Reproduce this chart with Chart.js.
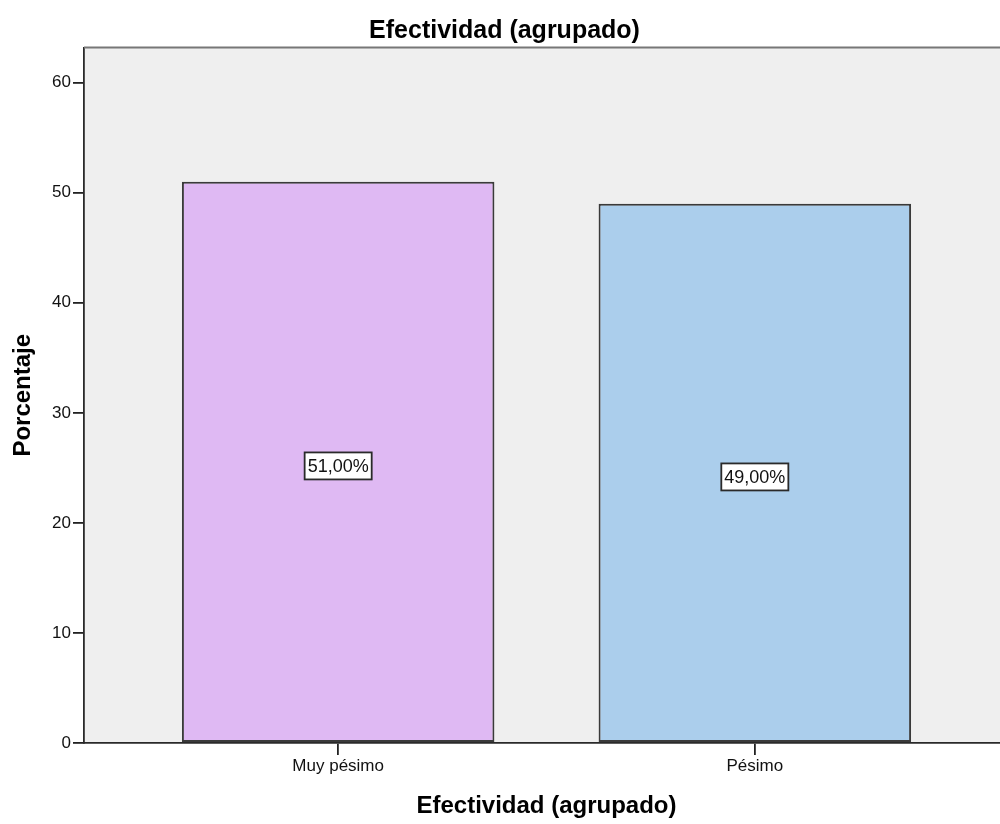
<!DOCTYPE html>
<html lang="es">
<head>
<meta charset="utf-8">
<title>Efectividad (agrupado)</title>
<script src="https://cdn.jsdelivr.net/npm/chart.js@4/dist/chart.umd.min.js"></script>
<style>
  html, body { margin: 0; padding: 0; background: #ffffff; overflow: hidden; }
  #wrap { width: 1009px; height: 824px; position: relative; }
</style>
</head>
<body>
<div id="wrap"><canvas id="chart"></canvas></div>
<script>
// Categorías y porcentajes
const categories = ['Muy pésimo', 'Pésimo'];
const percentages = [51.00, 49.00];
const barColors = ['#DFB9F3', '#ABCEEC'];
const yTicks = [0, 10, 20, 30, 40, 50, 60];

const chartTitle = 'Efectividad (agrupado)';
const xTitle = 'Efectividad (agrupado)';
const yTitle = 'Porcentaje';

const FONT = "'Liberation Sans', Arial, sans-serif";

const fmtPct = v => v.toFixed(2).replace('.', ',') + '%';

// Fondo gris del área de trazado y línea superior del marco
const framePlugin = {
  id: 'frame',
  beforeDraw(chart) {
    const { ctx, chartArea: a } = chart;
    ctx.save();
    ctx.fillStyle = '#EFEFEF';
    ctx.fillRect(a.left, a.top, a.right - a.left, a.bottom - a.top);
    ctx.restore();
  },
  afterDraw(chart) {
    const { ctx, chartArea: a } = chart;
    ctx.save();
    ctx.strokeStyle = '#777777';
    ctx.lineWidth = 2;
    ctx.beginPath();
    ctx.moveTo(a.left, a.top);
    ctx.lineTo(a.right, a.top);
    ctx.lineTo(a.right, a.bottom);
    ctx.stroke();
    ctx.restore();
  }
};

// Etiquetas de valor en recuadro blanco en el centro de cada barra
const valueLabels = {
  id: 'valueLabels',
  afterDatasetsDraw(chart) {
    const { ctx } = chart;
    const meta = chart.getDatasetMeta(0);
    ctx.save();
    ctx.font = '18px ' + FONT;
    ctx.textAlign = 'center';
    ctx.textBaseline = 'middle';
    meta.data.forEach((bar, i) => {
      const { x, y, base } = bar.getProps(['x', 'y', 'base'], true);
      const text = fmtPct(percentages[i]);
      const w = ctx.measureText(text).width + 6;
      const h = 27;
      const cy = (y + base) / 2 + 4;
      ctx.fillStyle = '#ffffff';
      ctx.fillRect(x - w / 2, cy - h / 2, w, h);
      ctx.strokeStyle = '#2a2a2a';
      ctx.lineWidth = 1.8;
      ctx.strokeRect(x - w / 2, cy - h / 2, w, h);
      ctx.fillStyle = '#111111';
      ctx.fillText(text, x, cy + 1);
    });
    ctx.restore();
  }
};

new Chart(document.getElementById('chart'), {
  type: 'bar',
  data: {
    datasets: [{
      data: categories.map((c, i) => ({ x: i, y: percentages[i] })),
      backgroundColor: barColors,
      borderColor: '#3a3a3a',
      borderWidth: 2,
      borderSkipped: false,
      barPercentage: 0.75,
      categoryPercentage: 1.0
    }]
  },
  options: {
    responsive: true,
    maintainAspectRatio: false,
    animation: false,
    layout: { padding: 0 },
    plugins: {
      legend: { display: false },
      tooltip: { enabled: false },
      title: {
        display: true,
        text: chartTitle,
        color: '#000000',
        font: { family: FONT, size: 25, weight: 'bold', lineHeight: 1.2 },
        padding: { top: 16, bottom: 1.5 }
      }
    },
    scales: {
      x: {
        type: 'linear',
        min: -0.61,
        max: 1.61,
        offset: false,
        afterBuildTicks(scale) {
          scale.ticks = categories.map((c, i) => ({ value: i }));
        },
        afterFit(scale) { scale.height = 81; },
        ticks: {
          color: '#111111',
          font: { family: FONT, size: 17 },
          padding: 1,
          maxRotation: 0,
          autoSkip: false,
          callback: v => categories[v]
        },
        grid: {
          display: true,
          offset: false,
          drawOnChartArea: false,
          drawTicks: true,
          tickLength: 12,
          color: '#222222',
          lineWidth: 1.8
        },
        border: { display: true, color: '#2a2a2a', width: 1.8 },
        title: {
          display: true,
          text: xTitle,
          color: '#000000',
          font: { family: FONT, size: 24, weight: 'bold', lineHeight: 1.2 },
          padding: { top: 0, bottom: 3 }
        }
      },
      y: {
        min: 0,
        max: 63.2,
        afterBuildTicks(scale) {
          scale.ticks = yTicks.map(v => ({ value: v }));
        },
        afterFit(scale) { scale.width = 84; },
        ticks: {
          color: '#111111',
          font: { family: FONT, size: 17 },
          padding: 2,
          includeBounds: false
        },
        grid: {
          display: true,
          drawOnChartArea: false,
          drawTicks: true,
          tickLength: 11,
          color: '#222222',
          lineWidth: 1.8
        },
        border: { display: true, color: '#2a2a2a', width: 1.8 },
        title: {
          display: true,
          text: yTitle,
          color: '#000000',
          font: { family: FONT, size: 24, weight: 'bold', lineHeight: 1.2 },
          padding: { top: 9, bottom: 0 }
        }
      }
    }
  },
  plugins: [framePlugin, valueLabels]
});
</script>
</body>
</html>
